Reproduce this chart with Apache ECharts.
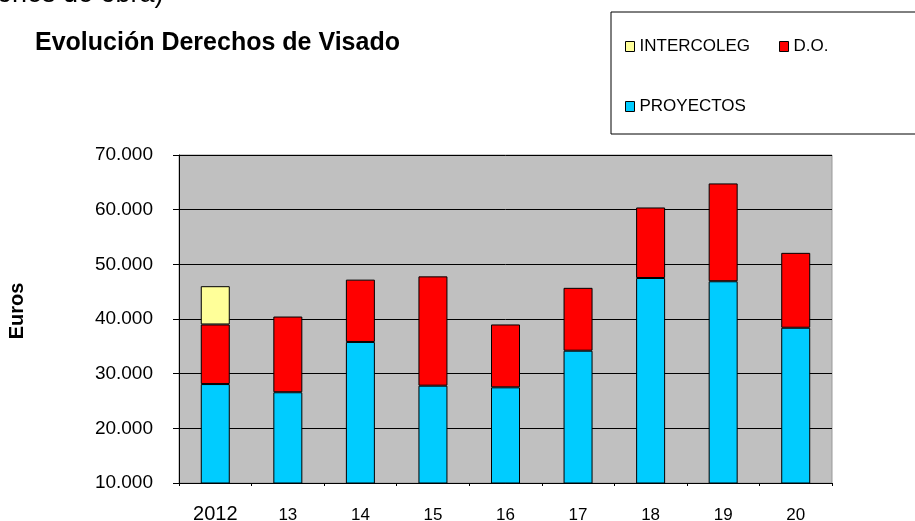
<!DOCTYPE html>
<html>
<head>
<meta charset="utf-8">
<script src="https://cdn.jsdelivr.net/npm/echarts@6/dist/echarts.min.js"></script>
<style>
html,body{margin:0;padding:0;background:#fff;}
#chart{width:915px;height:521px;}
</style>
</head>
<body>
<div id="chart"></div>
<script>
var categories = ['2012', '13', '14', '15', '16', '17', '18', '19', '20'];
var proyectos = [28100, 26600, 35800, 27800, 27500, 34200, 47500, 46900, 38400];
var direccionObra = [10900, 13850, 11400, 20000, 11500, 11500, 12900, 17900, 13700];
var intercoleg = [7000, null, null, null, null, null, null, null, null];
var yTicks = [10000, 20000, 30000, 40000, 50000, 60000, 70000];

function fmt(v) {
  var s = String(Math.round(v));
  return s.replace(/\B(?=(\d{3})+(?!\d))/g, '.');
}

var chart = echarts.init(document.getElementById('chart'), null, {renderer: 'canvas'});
var font = 'Liberation Sans, Arial, sans-serif';
var borderStyle = {borderColor: '#000', borderWidth: 1};

chart.setOption({
  animation: false,
  backgroundColor: '#fff',
  textStyle: {fontFamily: font, color: '#000'},
  title: {
    text: 'Evolución Derechos de Visado',
    left: 30, top: 26,
    textStyle: {fontFamily: font, fontSize: 25, fontWeight: 'bold', color: '#000'}
  },
  graphic: [
    {
      type: 'text', left: -3, top: -19, z: 10,
      style: {text: 'ones de obra)', fontFamily: font, fontSize: 27, fill: '#000'}
    },
    {
      type: 'rect', z: 0,
      shape: {x: 611, y: 12, width: 400, height: 122},
      style: {fill: '#fff', stroke: '#000', lineWidth: 1}
    }
  ],
  legend: [
    {
      data: ['INTERCOLEG', 'D.O.'],
      left: 620, top: 33, itemGap: 29,
      itemWidth: 9, itemHeight: 10, icon: 'rect',
      itemStyle: borderStyle,
      textStyle: {fontFamily: font, fontSize: 17, color: '#000'}
    },
    {
      data: ['PROYECTOS'],
      left: 620, top: 93,
      itemWidth: 9, itemHeight: 10, icon: 'rect',
      itemStyle: borderStyle,
      textStyle: {fontFamily: font, fontSize: 17, color: '#000'}
    }
  ],
  grid: {
    left: 179, right: 83, top: 155, bottom: 38,
    show: true, backgroundColor: '#C0C0C0', borderColor: '#999', borderWidth: 1,
    containLabel: false,
    outerBoundsMode: 'none'
  },
  xAxis: {
    type: 'category',
    data: categories.map(function (c, i) {
      return i === 0 ? {value: c, textStyle: {fontSize: 20}} : {value: c, textStyle: {fontSize: 17, padding: [3, 0, 0, 0]}};
    }),
    boundaryGap: true,
    axisLine: {lineStyle: {color: '#000', width: 1}},
    axisTick: {show: true, length: 3, interval: 0, lineStyle: {color: '#000'}},
    axisLabel: {interval: 0, margin: 21, color: '#000', fontFamily: font, fontSize: 17},
    splitLine: {show: false}
  },
  yAxis: {
    type: 'value',
    min: yTicks[0], max: yTicks[yTicks.length - 1], interval: yTicks[1] - yTicks[0],
    name: 'Euros',
    nameLocation: 'middle', nameRotate: 90, nameGap: 152,
    nameTextStyle: {fontFamily: font, fontSize: 20, fontWeight: 'bold', color: '#000', padding: [0, 0, 0, 16]},
    axisLine: {show: true, lineStyle: {color: '#000', width: 1}},
    axisTick: {show: true, length: 6, lineStyle: {color: '#000'}},
    axisLabel: {margin: 26, color: '#000', fontFamily: font, fontSize: 19, formatter: fmt},
    splitLine: {show: true, lineStyle: {color: '#000', width: 1}}
  },
  series: [
    {
      name: 'PROYECTOS', type: 'bar', stack: 'total', barWidth: 29,
      data: proyectos,
      itemStyle: {color: '#00CCFF', borderColor: '#000', borderWidth: 1}
    },
    {
      name: 'D.O.', type: 'bar', stack: 'total', barWidth: 29,
      data: direccionObra,
      itemStyle: {color: '#FF0000', borderColor: '#000', borderWidth: 1}
    },
    {
      name: 'INTERCOLEG', type: 'bar', stack: 'total', barWidth: 29,
      data: intercoleg,
      itemStyle: {color: '#FFFF99', borderColor: '#000', borderWidth: 1}
    }
  ]
});
</script>
</body>
</html>
